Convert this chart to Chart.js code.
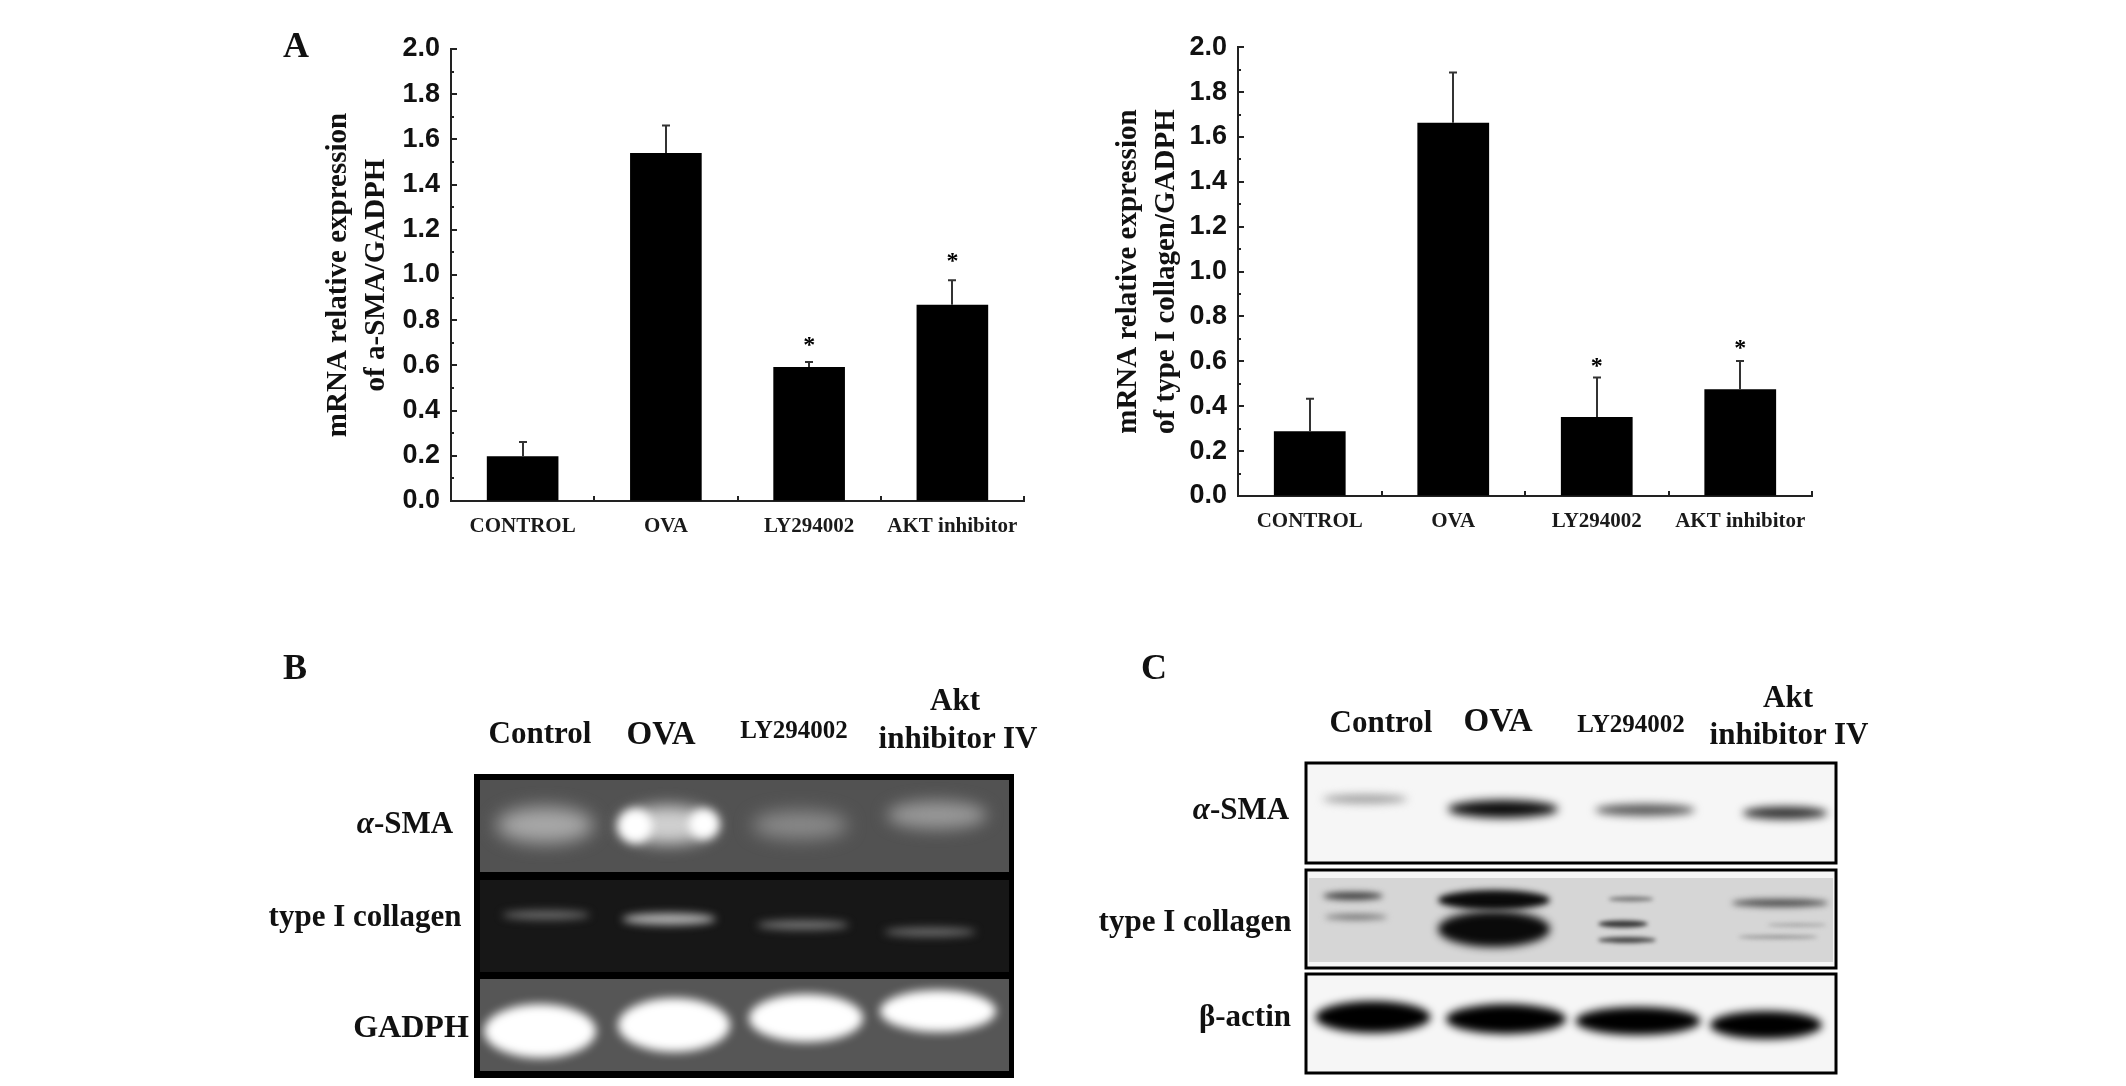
<!DOCTYPE html>
<html>
<head>
<meta charset="utf-8">
<title>mRNA and protein expression</title>
<script src="https://cdn.jsdelivr.net/npm/chart.js@4"></script>
<style>
    html, body { margin: 0; padding: 0; background: #fff; }
    body { position: relative; width: 2126px; height: 1086px; overflow: hidden; }
    canvas { position: absolute; }
    .lbl {
        position: absolute; transform: translate(-50%, -50%); white-space: nowrap;
        font-family: "Liberation Serif", serif; font-weight: bold; color: #111;
    }
</style>
</head>
<body>
<canvas id="blots" width="2126" height="1086" style="left:0;top:0"></canvas>
<div style="position:absolute;left:280px;top:20px;width:780px;height:520px"><canvas id="chartSma"></canvas></div>
<div style="position:absolute;left:1090px;top:20px;width:780px;height:520px"><canvas id="chartCollagen"></canvas></div>
<script>
const categories = ['CONTROL', 'OVA', 'LY294002', 'AKT inhibitor'];
const yTickLabels = ['0.0', '0.2', '0.4', '0.6', '0.8', '1.0', '1.2', '1.4', '1.6', '1.8', '2.0'];

const smaValues = [0.198, 1.54, 0.593, 0.868];
const smaErrorTops = [0.261, 1.661, 0.615, 0.977];
const smaStars = [null, null, 0.70, 1.07];

const collagenValues = [0.288, 1.663, 0.352, 0.476];
const collagenErrorTops = [0.433, 1.887, 0.528, 0.602];
const collagenStars = [null, null, 0.59, 0.67];

const TICK_FONT = '"Liberation Sans Narrow", "Liberation Sans", sans-serif';
const SERIF = '"Liberation Serif", serif';

// inward ticks, error whiskers and the asterisks, all through the chart scales
const extrasPlugin = {
    id: 'extras',
    beforeDraw(chart) {
        chart.ctx.letterSpacing = '0px';
    },
    afterDatasetsDraw(chart, args, opts) {
        const ctx = chart.ctx, x = chart.scales.x, y = chart.scales.y;
        const area = chart.chartArea;
        ctx.save();
        ctx.strokeStyle = '#222';
        ctx.lineWidth = 2;
        ctx.beginPath();
        for (let v = 0; v <= 20; v++) {
            const py = Math.round(y.getPixelForValue(v / 10));
            ctx.moveTo(area.left, py);
            ctx.lineTo(area.left + (v % 2 === 0 ? 6 : 3), py);
        }
        const step = x.getPixelForTick(1) - x.getPixelForTick(0);
        for (let i = 0; i < categories.length; i++) {
            const px = Math.round(x.getPixelForTick(i) + step / 2);
            ctx.moveTo(px, area.bottom);
            ctx.lineTo(px, area.bottom - 5);
        }
        ctx.stroke();

        // error bars, upper side only
        ctx.strokeStyle = '#333';
        opts.errorTops.forEach((top, i) => {
            const px = Math.round(x.getPixelForTick(i));
            const pTop = y.getPixelForValue(top);
            ctx.beginPath();
            ctx.moveTo(px, y.getPixelForValue(chart.data.datasets[0].data[i]));
            ctx.lineTo(px, pTop);
            ctx.moveTo(px - 4, pTop);
            ctx.lineTo(px + 4, pTop);
            ctx.stroke();
        });

        ctx.fillStyle = '#000';
        ctx.font = 'bold 24px ' + SERIF;
        ctx.textAlign = 'center';
        ctx.textBaseline = 'middle';
        opts.stars.forEach((s, i) => {
            if (s !== null) ctx.fillText('*', x.getPixelForTick(i), y.getPixelForValue(s) + 3);
        });
        ctx.restore();
    }
};

function makeChart(id, values, errorTops, stars, titleLines, box) {
    return new Chart(document.getElementById(id), {
        type: 'bar',
        data: {
            labels: categories,
            datasets: [{
                data: values,
                backgroundColor: '#000',
                barPercentage: 0.5,
                categoryPercentage: 1
            }]
        },
        plugins: [extrasPlugin],
        options: {
            responsive: true,
            maintainAspectRatio: false,
            animation: false,
            layout: { padding: box.padding },
            plugins: {
                legend: { display: false },
                tooltip: { enabled: false },
                extras: { errorTops: errorTops, stars: stars }
            },
            scales: {
                x: {
                    afterFit(scale) { scale.height = box.xHeight; },
                    grid: { drawOnChartArea: false, drawTicks: false },
                    border: { color: '#222', width: 2 },
                    ticks: {
                        color: '#1a1a1a', padding: 13, maxRotation: 0, autoSkip: false,
                        font: { family: SERIF, weight: 'bold', size: 21 }
                    }
                },
                y: {
                    min: 0,
                    max: 2,
                    afterFit(scale) { scale.width = box.yWidth; },
                    grid: { drawOnChartArea: false, drawTicks: false },
                    border: { color: '#222', width: 2 },
                    ticks: {
                        stepSize: 0.2, color: '#111', padding: 11,
                        callback: (v, i) => yTickLabels[i],
                        font: { family: TICK_FONT, weight: 'bold', size: 27 }
                    },
                    title: {
                        display: true,
                        text: titleLines,
                        color: '#111',
                        padding: 0,
                        font: { family: SERIF, weight: 'bold', size: 29, lineHeight: 1.3 }
                    }
                }
            }
        }
    });
}

makeChart('chartSma', smaValues, smaErrorTops, smaStars,
    ['mRNA relative expression', 'of a-SMA/GADPH'],
    { padding: { top: 29, right: 36, bottom: 0, left: 40 }, xHeight: 39, yWidth: 131 });

makeChart('chartCollagen', collagenValues, collagenErrorTops, collagenStars,
    ['mRNA relative expression', 'of type I collagen/GADPH'],
    { padding: { top: 26, right: 58, bottom: 0, left: 20 }, xHeight: 44, yWidth: 128 });

// western blot / gel panels (photographs in the original), painted as soft blurred bands
const gelPanels = [
    { x: 474, y: 774, w: 540, h: 304, bg: '#000' },
    { x: 480, y: 780, w: 529, h: 92, bg: '#525252' },
    { x: 480, y: 880, w: 529, h: 92, bg: '#171717' },
    { x: 480, y: 979, w: 529, h: 92, bg: '#565656' }
];
const gelBands = [
    [545, 825, 97, 36, '#a8a8a8', 9], [668, 825, 97, 38, '#d0d0d0', 8],
    [800, 825, 96, 28, '#8a8a8a', 9], [937, 815, 100, 28, '#989898', 8],
    [635, 826, 34, 34, '#ffffff', 5], [704, 824, 30, 30, '#ffffff', 5],
    [546, 915, 88, 9, '#6a6a6a', 4], [669, 919, 94, 12, '#b0b0b0', 4],
    [803, 925, 92, 9, '#777777', 4], [930, 932, 92, 9, '#6a6a6a', 4],
    [540, 1031, 112, 54, '#ffffff', 5], [674, 1025, 112, 54, '#ffffff', 5],
    [806, 1018, 114, 48, '#ffffff', 5], [938, 1011, 116, 42, '#ffffff', 5]
];
const blotPanels = [
    { x: 1306, y: 763, w: 530, h: 100 },
    { x: 1306, y: 870, w: 530, h: 98, inner: '#d6d6d6' },
    { x: 1306, y: 974, w: 530, h: 99 }
];
const blotBands = [
    [1365, 799, 85, 9, '#a0a0a0', 4], [1503, 809, 110, 18, '#0c0c0c', 5],
    [1645, 810, 100, 12, '#5a5a5a', 4], [1785, 813, 85, 13, '#333333', 4],
    [1353, 896, 60, 8, '#404040', 3], [1356, 917, 62, 6, '#777777', 3],
    [1494, 900, 112, 20, '#0a0a0a', 3], [1494, 929, 112, 36, '#0a0a0a', 4],
    [1631, 899, 45, 5, '#777777', 2], [1623, 924, 50, 7, '#333333', 2], [1627, 940, 58, 6, '#444444', 2],
    [1780, 903, 97, 8, '#505050', 3], [1797, 925, 60, 4, '#aaaaaa', 2], [1778, 937, 80, 4, '#999999', 2],
    [1373, 1017, 115, 32, '#000000', 4], [1506, 1019, 120, 30, '#000000', 4],
    [1638, 1021, 125, 28, '#000000', 4], [1766, 1025, 112, 28, '#000000', 4]
];

function paintBands(ctx, bands, clipPanels) {
    bands.forEach(b => {
        const panel = clipPanels.find(p => b[1] >= p.y && b[1] <= p.y + p.h);
        ctx.save();
        ctx.beginPath();
        ctx.rect(panel.x, panel.y, panel.w, panel.h);
        ctx.clip();
        ctx.filter = 'blur(' + b[5] + 'px)';
        ctx.fillStyle = b[4];
        ctx.beginPath();
        ctx.ellipse(b[0], b[1], b[2] / 2, b[3] / 2, 0, 0, Math.PI * 2);
        ctx.fill();
        ctx.restore();
    });
}

const blotCtx = document.getElementById('blots').getContext('2d');
gelPanels.forEach(p => {
    blotCtx.fillStyle = p.bg;
    blotCtx.fillRect(p.x, p.y, p.w, p.h);
});
paintBands(blotCtx, gelBands, gelPanels.slice(1));
blotPanels.forEach(p => {
    blotCtx.fillStyle = '#f6f6f6';
    blotCtx.fillRect(p.x, p.y, p.w, p.h);
    if (p.inner) {
        blotCtx.fillStyle = p.inner;
        blotCtx.fillRect(p.x + 3, p.y + 8, p.w - 6, p.h - 14);
    }
});
paintBands(blotCtx, blotBands, blotPanels);
blotCtx.strokeStyle = '#000';
blotCtx.lineWidth = 3;
blotPanels.forEach(p => blotCtx.strokeRect(p.x, p.y, p.w, p.h));

// text around the panels
const labels = [
    ['A', 296, 45, 36], ['B', 295, 667, 36], ['C', 1154, 667, 36],
    ['Control', 540, 733, 31], ['OVA', 661, 733, 33], ['LY294002', 794, 730, 25],
    ['Akt', 955, 700, 31], ['inhibitor IV', 958, 738, 31],
    ['<i>α</i>-SMA', 405, 823, 31], ['type I collagen', 365, 916, 31], ['GADPH', 411, 1026, 32],
    ['Control', 1381, 722, 31], ['OVA', 1498, 720, 33], ['LY294002', 1631, 724, 25],
    ['Akt', 1788, 697, 31], ['inhibitor IV', 1789, 734, 31],
    ['<i>α</i>-SMA', 1241, 809, 31], ['type I collagen', 1195, 921, 31], ['β-actin', 1245, 1016, 31]
];
labels.forEach(l => {
    const el = document.createElement('div');
    el.className = 'lbl';
    el.innerHTML = l[0];
    el.style.left = l[1] + 'px';
    el.style.top = l[2] + 'px';
    el.style.fontSize = l[3] + 'px';
    document.body.appendChild(el);
});
</script>
</body>
</html>
